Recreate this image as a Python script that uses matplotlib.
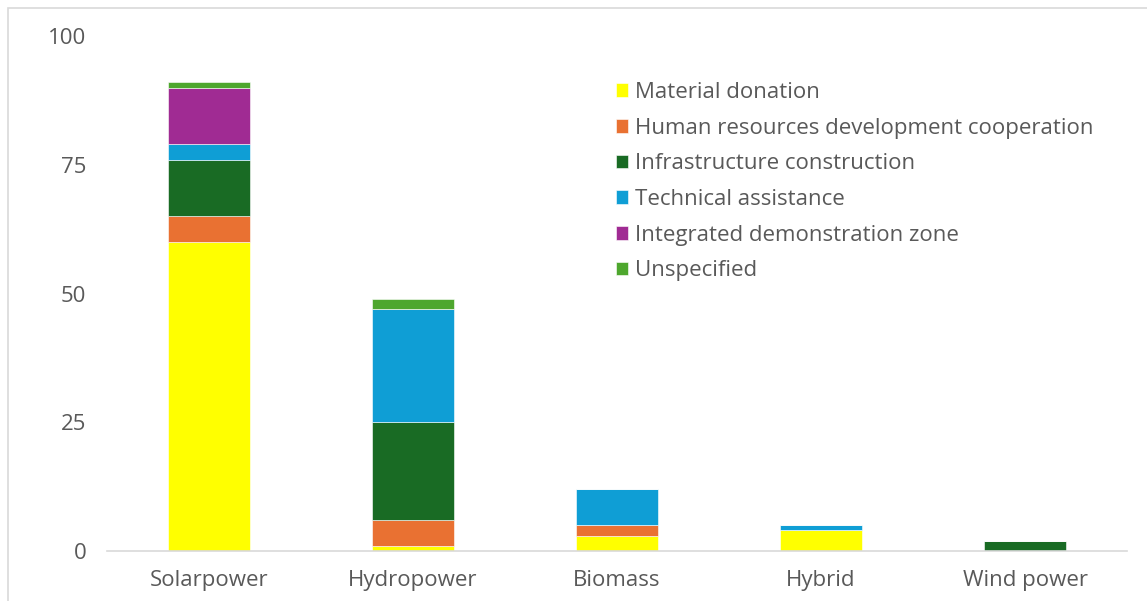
import matplotlib.pyplot as plt
import matplotlib.patches as mpatches
import numpy as np

plt.rcParams['font.family'] = ['Open Sans', 'DejaVu Sans']

# Data
categories = ["Solarpower", "Hydropower", "Biomass", "Hybrid", "Wind power"]
material_donation = [60, 1, 3, 4, 0]
human_resources = [5, 5, 2, 0, 0]
infrastructure = [11, 19, 0, 0, 2]
technical_assistance = [3, 22, 7, 1, 0]
integrated_zone = [11, 0, 0, 0, 0]
unspecified = [1, 2, 0, 0, 0]

series = [
    ("Material donation", material_donation, "#FFFF00"),
    ("Human resources development cooperation", human_resources, "#E97132"),
    ("Infrastructure construction", infrastructure, "#196B24"),
    ("Technical assistance", technical_assistance, "#0F9ED5"),
    ("Integrated demonstration zone", integrated_zone, "#A02B93"),
    ("Unspecified", unspecified, "#4EA72E"),
]

fig = plt.figure(figsize=(11.47, 6.01), dpi=100)
ax = fig.add_axes([0.0933, 0.0832, 0.8893, 0.8568])

x = np.arange(len(categories))
bottom = np.zeros(len(categories))
for label, vals, color in series:
    vals = np.array(vals, dtype=float)
    ax.bar(x, vals, width=0.4, bottom=bottom, color=color, label=label,
           edgecolor="white", linewidth=0.4)
    bottom += vals

ax.set_xlim(-0.5, len(categories) - 0.5)
ax.set_ylim(0, 100)
ax.set_yticks([0, 25, 50, 75, 100])
ax.set_xticks(x)
ax.set_xticklabels(categories)
ax.tick_params(axis="both", length=0, labelsize=16, colors="#595959")
ax.tick_params(axis="y", pad=15)
ax.tick_params(axis="x", pad=14)
for s in ["top", "right", "left"]:
    ax.spines[s].set_visible(False)
ax.spines["bottom"].set_color("#D9D9D9")
ax.spines["bottom"].set_linewidth(1.2)

leg = ax.legend(loc="upper left", bbox_to_anchor=(0.49, 0.928), frameon=False,
                fontsize=16, labelcolor="#595959", handlelength=0.55,
                handleheight=0.55, handletextpad=0.3, labelspacing=0.66,
                borderaxespad=0)

# light outer border of the chart area
border = mpatches.Rectangle((8 / 1147, -0.05), 1.1, 1.05 - 8 / 601,
                            transform=fig.transFigure, fill=False,
                            edgecolor="#D9D9D9", linewidth=1.2, clip_on=False)
fig.patches.append(border)

fig.savefig("out.png", dpi=100)
